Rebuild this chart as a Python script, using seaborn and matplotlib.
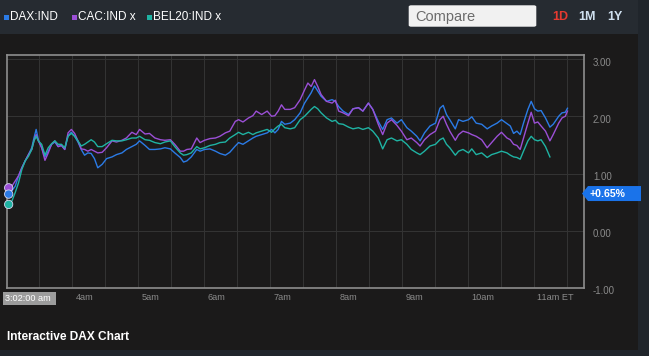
import numpy as np
import pandas as pd
import matplotlib
matplotlib.use("Agg")
import matplotlib.pyplot as plt
import matplotlib.transforms as mtrans
from matplotlib.patches import Rectangle, FancyBboxPatch, Polygon
import seaborn as sns

# ---------------- data ----------------
# minutes after 3:00 am ET
minutes = [2, 5, 8, 11, 14, 17, 20, 23, 25, 27, 29, 32, 35, 38, 41, 44, 47, 50, 53, 56,
           59, 62, 65, 68, 71, 74, 77, 80, 83, 87, 91, 96, 100, 105, 109, 114, 118, 121, 126,
           130, 135, 140, 144, 149, 153, 158, 161, 164, 168, 173, 176, 180, 185, 190, 194, 199, 203,
           208, 211, 215, 220, 224, 227, 232, 237, 241, 244, 247, 250, 253, 258,
           262, 267, 271, 274, 277, 280, 283, 286, 291, 296, 299, 302, 306, 311, 315, 320, 324, 329,
           333, 338, 342, 346, 350, 355, 359, 364, 368, 373, 376, 380, 385, 390,
           394, 397, 400, 403, 408, 411, 415, 420, 423, 427, 432, 437, 441, 446, 450, 455, 458, 461,
           464, 467, 470, 474, 477, 480, 483, 486, 490, 494, 497, 502, 505, 508, 510]

dax = [.64, .70, .78, .96, 1.10, 1.22, 1.33, 1.45, 1.62, 1.77, 1.59, 1.45, 1.29, 1.39, 1.51, 1.55, 1.47, 1.49, 1.42, 1.66,
       1.72, 1.65, 1.55, 1.42, 1.32, 1.36, 1.35, 1.26, 1.10, 1.16, 1.26, 1.29, 1.33, 1.36, 1.42, 1.47, 1.51, 1.57, 1.49,
       1.42, 1.42, 1.43, 1.45, 1.43, 1.36, 1.28, 1.20, 1.22, 1.29, 1.42, 1.39, 1.42, 1.43, 1.39, 1.35, 1.32, 1.37,
       1.48, 1.54, 1.51, 1.57, 1.62, 1.65, 1.68, 1.71, 1.77, 1.71, 1.77, 1.91, 1.86, 1.88,
       1.94, 2.06, 2.23, 2.32, 2.41, 2.53, 2.44, 2.35, 2.26, 2.29, 2.26, 2.17, 2.09, 2.03, 2.13, 2.15, 2.09, 2.23,
       2.12, 1.91, 1.77, 1.94, 1.97, 1.88, 1.94, 1.80, 1.74, 1.65, 1.57, 1.71, 1.83, 1.88,
       2.14, 2.19, 2.03, 1.94, 1.78, 1.94, 1.91, 1.94, 1.99, 1.88, 1.86, 1.78, 1.83, 1.88, 1.94, 1.87, 1.83, 1.70,
       1.74, 1.68, 1.88, 2.12, 2.26, 2.13, 2.09, 2.10, 1.97, 1.81, 1.86, 2.00, 2.06, 2.07, 2.14]

cac = [.75, .78, .87, .96, 1.10, 1.22, 1.33, 1.42, 1.57, 1.68, 1.57, 1.45, 1.23, 1.36, 1.51, 1.57, 1.47, 1.49, 1.42, 1.71,
       1.77, 1.70, 1.57, 1.43, 1.42, 1.39, 1.42, 1.39, 1.36, 1.37, 1.45, 1.57, 1.55, 1.58, 1.62, 1.72, 1.68, 1.77, 1.69,
       1.70, 1.62, 1.59, 1.58, 1.59, 1.51, 1.39, 1.39, 1.42, 1.43, 1.62, 1.54, 1.58, 1.61, 1.62, 1.65, 1.71, 1.74,
       1.91, 1.94, 1.90, 1.97, 2.01, 2.09, 2.03, 2.09, 2.00, 2.01, 2.09, 2.20, 2.12, 2.12,
       2.15, 2.29, 2.46, 2.58, 2.52, 2.64, 2.52, 2.38, 2.26, 2.23, 2.28, 2.09, 2.06, 2.01, 2.13, 2.15, 2.09, 2.23,
       2.12, 1.86, 1.68, 1.88, 1.94, 1.84, 1.74, 1.59, 1.62, 1.54, 1.48, 1.59, 1.68, 1.74,
       1.94, 2.00, 1.86, 1.74, 1.58, 1.68, 1.74, 1.71, 1.68, 1.65, 1.59, 1.45, 1.54, 1.65, 1.72, 1.62, 1.59, 1.51,
       1.49, 1.42, 1.62, 1.88, 2.07, 1.88, 1.90, 1.83, 1.74, 1.57, 1.68, 1.88, 1.97, 2.00, 2.09]

bel20 = [.46, .52, .67, .84, 1.07, 1.22, 1.30, 1.42, 1.57, 1.65, 1.57, 1.51, 1.32, 1.45, 1.52, 1.57, 1.51, 1.51, 1.45, 1.65,
         1.70, 1.65, 1.57, 1.48, 1.51, 1.55, 1.59, 1.55, 1.47, 1.47, 1.52, 1.58, 1.57, 1.57, 1.59, 1.62, 1.62, 1.65, 1.59,
         1.58, 1.54, 1.52, 1.55, 1.57, 1.47, 1.36, 1.32, 1.33, 1.36, 1.47, 1.43, 1.45, 1.49, 1.51, 1.54, 1.55, 1.62,
         1.68, 1.72, 1.68, 1.72, 1.68, 1.71, 1.74, 1.77, 1.72, 1.78, 1.83, 1.86, 1.80, 1.78,
         1.80, 1.94, 2.00, 2.06, 2.12, 2.17, 2.13, 2.06, 1.97, 1.91, 1.93, 1.87, 1.86, 1.81, 1.78, 1.80, 1.77, 1.80,
         1.74, 1.62, 1.43, 1.59, 1.62, 1.57, 1.59, 1.51, 1.42, 1.36, 1.33, 1.39, 1.48, 1.51,
         1.59, 1.62, 1.51, 1.45, 1.32, 1.39, 1.42, 1.36, 1.43, 1.33, 1.36, 1.28, 1.33, 1.36, 1.39, 1.36, 1.32, 1.29,
         1.28, 1.25, 1.39, 1.57, 1.65, 1.59, 1.57, 1.59, 1.47, 1.29]

series_names = ["DAX:IND", "CAC:IND", "BEL20:IND"]
header_labels = ["DAX:IND", "CAC:IND x", "BEL20:IND x"]
hour_labels = ["4am", "5am", "6am", "7am", "8am", "9am", "10am", "11am ET"]
hour_minutes = [60, 120, 180, 240, 300, 360, 420, 480]
ytick_values = [-1, 0, 1, 2, 3]
tag_value = 0.65
tag_text = "+0.65%"
start_label = "3:02:00 am"
range_buttons = ["1D", "1M", "1Y"]
title_text = "Interactive DAX Chart"

colors = ["#2b7be6", "#9b4fd6", "#1fb3a3"]

# ---------------- styling ----------------
plt.rcParams["font.family"] = ["Liberation Sans", "DejaVu Sans"]
W, H = 649, 356
BG = "#1b1a1a"
fig = plt.figure(figsize=(W / 100, H / 100), dpi=100, facecolor=BG)


def fx(x):
    return x / W


def fy(y):
    return 1 - y / H


# right strip and header bar
fig.patches.append(Rectangle((fx(638), 0), 1 - fx(638), 1, transform=fig.transFigure,
                             facecolor="#20252b", edgecolor="none", zorder=0))
fig.patches.append(Rectangle((0, 0), 1, fy(350), transform=fig.transFigure,
                             facecolor="#20252b", edgecolor="none", zorder=0))
fig.patches.append(Rectangle((0, fy(34)), fx(638), 1 - fy(34), transform=fig.transFigure,
                             facecolor="#262b31", edgecolor="none", zorder=0))

# header legend entries
hx = [4, 72, 147]
for x0, lab, c in zip(hx, header_labels, colors):
    fig.patches.append(Rectangle((fx(x0), fy(20)), fx(5), 5 / H, transform=fig.transFigure,
                                 facecolor=c, edgecolor="none"))
    fig.text(fx(x0 + 6), fy(17), lab, color="white", fontsize=8.5, ha="left", va="center")

# compare box
fig.patches.append(FancyBboxPatch((fx(410), fy(26)), fx(125), 20 / H, transform=fig.transFigure,
                                  boxstyle="round,pad=0.002,rounding_size=0.004",
                                  facecolor="#f1f1f1", edgecolor="none"))
fig.text(fx(415), fy(16.5), "Compare", color="#6b6b6b", fontsize=10.5, ha="left", va="center")
for bx, lab, c in zip([560, 587, 615], range_buttons, ["#e63a30", "#cfe0ef", "#cfe0ef"]):
    fig.text(fx(bx), fy(16.5), lab, color=c, fontsize=9, fontweight="bold", ha="center", va="center")

# ---------------- main axes ----------------
ax = fig.add_axes([fx(7), fy(288), fx(577), (288 - 55) / H])
ax.set_facecolor(BG)

df = pd.concat([
    pd.DataFrame({"minute": minutes[:len(v)], "value": v, "index": n})
    for n, v in zip(series_names, [dax, cac, bel20])
])
sns.lineplot(data=df, x="minute", y="value", hue="index", hue_order=series_names,
             palette=colors, linewidth=1.0, legend=False, ax=ax, zorder=3)

ax.set_xlim(0.5, 525)
ax.set_ylim(-1.0, 3.07)
ax.set_xticks(np.arange(30, 525, 30))
ax.set_yticks(ytick_values)
ax.grid(True, color="#343434", linewidth=0.7)
ax.set_axisbelow(True)
ax.tick_params(length=0, labelbottom=False, labelleft=False, labelright=False)
ax.set_xlabel("")
ax.set_ylabel("")
for s in ax.spines.values():
    s.set_color("#8e8e8e")
    s.set_linewidth(1.2)

# start markers
starts = pd.DataFrame({"minute": [minutes[0]] * 3, "value": [cac[0], dax[0], bel20[0]],
                       "index": [series_names[1], series_names[0], series_names[2]]})
sns.scatterplot(data=starts, x="minute", y="value", hue="index", hue_order=series_names,
                palette=colors, s=36, edgecolor="#d8d8f0", linewidth=0.6, legend=False,
                ax=ax, zorder=5, clip_on=False)
ax.set_xlabel("")
ax.set_ylabel("")

# y labels on right
ytr = mtrans.offset_copy(ax.get_yaxis_transform(), fig=fig, x=9, y=-3.5, units="dots")
for v in ytick_values:
    ax.text(1.0, v, f"{v:.2f}", transform=ytr, color="#8a8a8a", fontsize=7, ha="left", va="center")

# x labels
xtr = mtrans.offset_copy(ax.get_xaxis_transform(), fig=fig, x=3, y=-9, units="dots")
for m, lab in zip(hour_minutes, hour_labels):
    ax.text(m, 0, lab, transform=xtr, color="#8a8a8a", fontsize=6.6, ha="left", va="center")

# start time label box
fig.patches.append(Rectangle((fx(3), fy(305)), fx(53), 13 / H, transform=fig.transFigure,
                             facecolor="#9c9c9c", edgecolor="none"))
fig.text(fx(5), fy(298.5), start_label, color="white", fontsize=6.6, ha="left", va="center")

# value tag
ty = ax.transData.transform((0, tag_value))[1]
ty_px = H - ty
tag = Polygon([(fx(582), fy(ty_px)), (fx(588), fy(ty_px - 7.5)), (fx(641), fy(ty_px - 7.5)),
               (fx(641), fy(ty_px + 7.5)), (fx(588), fy(ty_px + 7.5))],
              closed=True, transform=fig.transFigure, facecolor="#1a73ea", edgecolor="none", zorder=10)
fig.patches.append(tag)
fig.text(fx(590), fy(ty_px), tag_text, color="white", fontsize=7.6, fontweight="bold",
         ha="left", va="center", zorder=11)

# footer title
fig.text(fx(7), fy(337), title_text, color="white", fontsize=8.6, fontweight="bold",
         ha="left", va="center")

fig.savefig("out.png", dpi=100, facecolor=BG)
